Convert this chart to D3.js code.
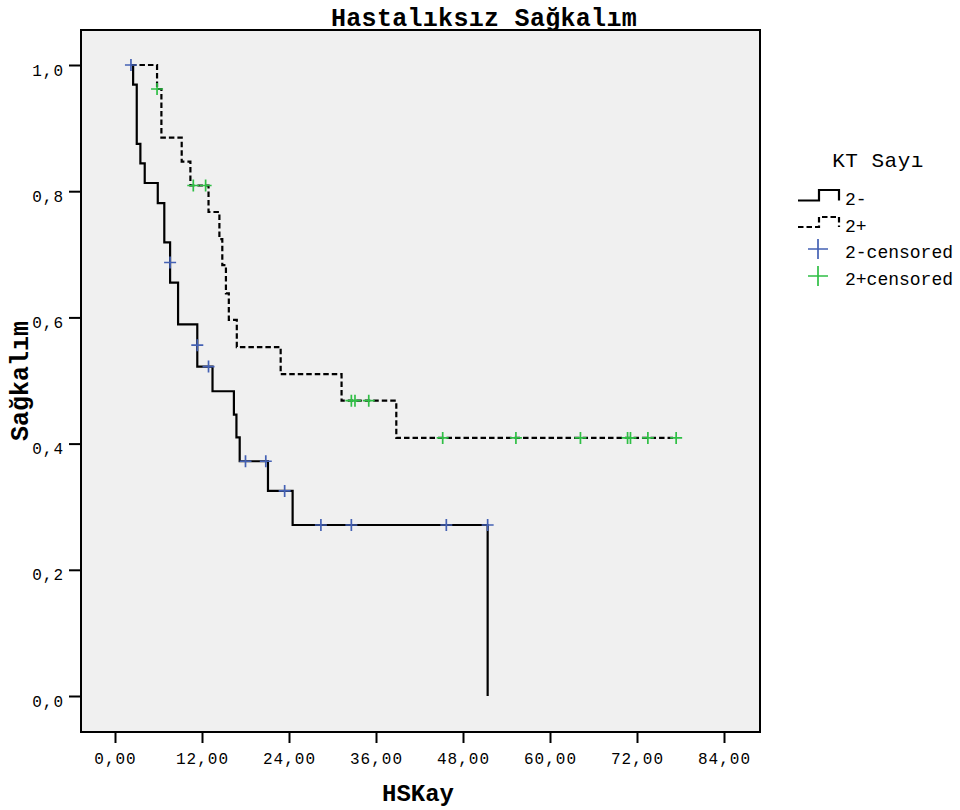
<!DOCTYPE html>
<html>
<head>
<meta charset="utf-8">
<script src="https://cdn.jsdelivr.net/npm/d3@7"></script>
<style>
  html, body { margin: 0; padding: 0; background: #ffffff; }
  svg { display: block; }
  text { font-family: "Liberation Mono", "DejaVu Sans Mono", monospace; fill: #000; }
</style>
</head>
<body>
<svg id="chart" width="960" height="810"></svg>
<script>
// ---------------- data ----------------
const chartTitle = "Hastalıksız Sağkalım";
const xTitle = "HSKay";
const yTitle = "Sağkalım";
const legendTitle = "KT Sayı";
const legendLabels = ["2-", "2+", "2-censored", "2+censored"];

const xTicks = [0, 12, 24, 36, 48, 60, 72, 84];
const yTicks = [0, 0.2, 0.4, 0.6, 0.8, 1.0];

// group "2-" (solid line): step times and survival after each step
const startTime = 2.2;
const times2m = [2.5, 3.0, 3.5, 4.1, 5.9, 6.8, 7.6, 7.6, 8.7, 11.35, 11.35, 13.45, 16.4, 16.75, 17.2, 21.1, 24.5, 51.4];
const surv2m  = [0.969, 0.875, 0.844, 0.813, 0.781, 0.719, 0.687, 0.655, 0.589, 0.556, 0.522, 0.483, 0.446, 0.410, 0.372, 0.325, 0.271, 0.0];
const censorTimes2m = [2.2, 7.6, 11.35, 12.9, 18.0, 20.8, 23.4, 28.4, 32.6, 45.7, 51.4];
const censorSurv2m  = [1.0, 0.687, 0.556, 0.522, 0.372, 0.372, 0.325, 0.271, 0.271, 0.271, 0.271];

// group "2+" (dashed line)
const times2p = [5.8, 6.4, 9.2, 10.4, 12.9, 14.4, 14.8, 15.3, 15.7, 16.8, 22.85, 31.25, 38.8, 77.4];
const surv2p  = [0.962, 0.885, 0.847, 0.809, 0.767, 0.724, 0.683, 0.638, 0.596, 0.553, 0.510, 0.468, 0.409, 0.409];
const censorTimes2p = [5.8, 10.8, 12.5, 32.6, 33.1, 35.0, 45.2, 55.3, 64.2, 70.7, 71.1, 73.5, 77.4];
const censorSurv2p  = [0.962, 0.809, 0.809, 0.468, 0.468, 0.468, 0.409, 0.409, 0.409, 0.409, 0.409, 0.409, 0.409];

// ---------------- layout ----------------
const frame = { left: 81, top: 30, right: 760, bottom: 732 };
const blue = "#4461b4";
const green = "#2fbf45";

const svg = d3.select("#chart");

const x = d3.scaleLinear().domain([0, 84]).range([115, 724]);
const y = d3.scaleLinear().domain([0, 1]).range([696, 65]);

// plot background + frame
svg.append("rect")
  .attr("x", frame.left).attr("y", frame.top)
  .attr("width", frame.right - frame.left).attr("height", frame.bottom - frame.top)
  .attr("fill", "#f0f0f0").attr("stroke", "#000").attr("stroke-width", 2);

// x axis
const xAxis = d3.axisBottom(x)
  .tickValues(xTicks)
  .tickSize(11)
  .tickPadding(10)
  .tickFormat(d => d3.format(".2f")(d).replace(".", ","));
const gx = svg.append("g").attr("transform", `translate(0,${frame.bottom})`).call(xAxis);
gx.select(".domain").remove();
gx.selectAll(".tick line").attr("stroke", "#000").attr("stroke-width", 2);
gx.selectAll(".tick text")
  .attr("font-family", "Liberation Mono, monospace")
  .attr("font-size", 16).attr("letter-spacing", 1).attr("fill", "#222").attr("dy", null).attr("y", 32);

// y axis
const yAxis = d3.axisLeft(y)
  .tickValues(yTicks)
  .tickSize(12)
  .tickPadding(6)
  .tickFormat(d => d3.format(".1f")(d).replace(".", ","));
const gy = svg.append("g").attr("transform", `translate(${frame.left},0)`).call(yAxis);
gy.select(".domain").remove();
gy.selectAll(".tick line").attr("stroke", "#000").attr("stroke-width", 2);
gy.selectAll(".tick text")
  .attr("font-family", "Liberation Mono, monospace")
  .attr("font-size", 16).attr("letter-spacing", 1).attr("fill", "#222").attr("dy", null).attr("y", 10).attr("x", -17);

// step lines
const line = d3.line()
  .x(d => x(d[0]))
  .y(d => y(d[1]))
  .curve(d3.curveStepAfter);

const pts2m = [[startTime, 1.0]].concat(times2m.map((t, i) => [t, surv2m[i]]));
const pts2p = [[startTime, 1.0]].concat(times2p.map((t, i) => [t, surv2p[i]]));

svg.append("path").datum(pts2p)
  .attr("d", line).attr("fill", "none")
  .attr("stroke", "#000").attr("stroke-width", 2.2).attr("stroke-dasharray", "5.5,3");

svg.append("path").datum(pts2m)
  .attr("d", line).attr("fill", "none")
  .attr("stroke", "#000").attr("stroke-width", 2.2);

// censor markers
function crossPath(cx, cy, h) {
  return `M${cx - h},${cy}H${cx + h}M${cx},${cy - h}V${cy + h}`;
}
svg.append("g").selectAll("path")
  .data(censorTimes2m.map((t, i) => [t, censorSurv2m[i]]))
  .join("path")
  .attr("d", d => crossPath(x(d[0]), y(d[1]), 6))
  .attr("stroke", blue).attr("stroke-width", 1.7).attr("fill", "none");

svg.append("g").selectAll("path")
  .data(censorTimes2p.map((t, i) => [t, censorSurv2p[i]]))
  .join("path")
  .attr("d", d => crossPath(x(d[0]), y(d[1]), 6))
  .attr("stroke", green).attr("stroke-width", 1.7).attr("fill", "none");

// titles
svg.append("text")
  .attr("x", 484).attr("y", 26)
  .attr("text-anchor", "middle")
  .attr("font-size", 25).attr("font-weight", "bold").attr("letter-spacing", 0.3)
  .text(chartTitle);

svg.append("text")
  .attr("x", 418).attr("y", 801)
  .attr("text-anchor", "middle")
  .attr("font-size", 24).attr("font-weight", "bold")
  .text(xTitle);

svg.append("text")
  .attr("transform", "translate(28,381) rotate(-90)")
  .attr("text-anchor", "middle")
  .attr("font-size", 25).attr("font-weight", "bold")
  .text(yTitle);

// legend
const lg = svg.append("g");
lg.append("text")
  .attr("x", 878).attr("y", 167)
  .attr("text-anchor", "middle")
  .attr("font-size", 21).attr("letter-spacing", 0.5).attr("fill", "#222")
  .text(legendTitle);

const stepIcon = (yl, yh) => `M798,${yl}H819V${yh}H839V${yl}`;
lg.append("path").attr("d", stepIcon(200.5, 190))
  .attr("fill", "none").attr("stroke", "#000").attr("stroke-width", 2.2);
lg.append("path").attr("d", stepIcon(227, 217))
  .attr("fill", "none").attr("stroke", "#000").attr("stroke-width", 2.2).attr("stroke-dasharray", "5.5,3");
lg.append("path").attr("d", crossPath(818, 249, 10))
  .attr("fill", "none").attr("stroke", blue).attr("stroke-width", 1.7);
lg.append("path").attr("d", crossPath(818, 276, 10))
  .attr("fill", "none").attr("stroke", green).attr("stroke-width", 1.7);

const legendY = [205, 232, 258, 285];
lg.selectAll("text.item")
  .data(legendLabels)
  .join("text")
  .attr("class", "item")
  .attr("x", 845).attr("y", (d, i) => legendY[i])
  .attr("font-size", 18).attr("fill", "#222")
  .text(d => d);
</script>
</body>
</html>
